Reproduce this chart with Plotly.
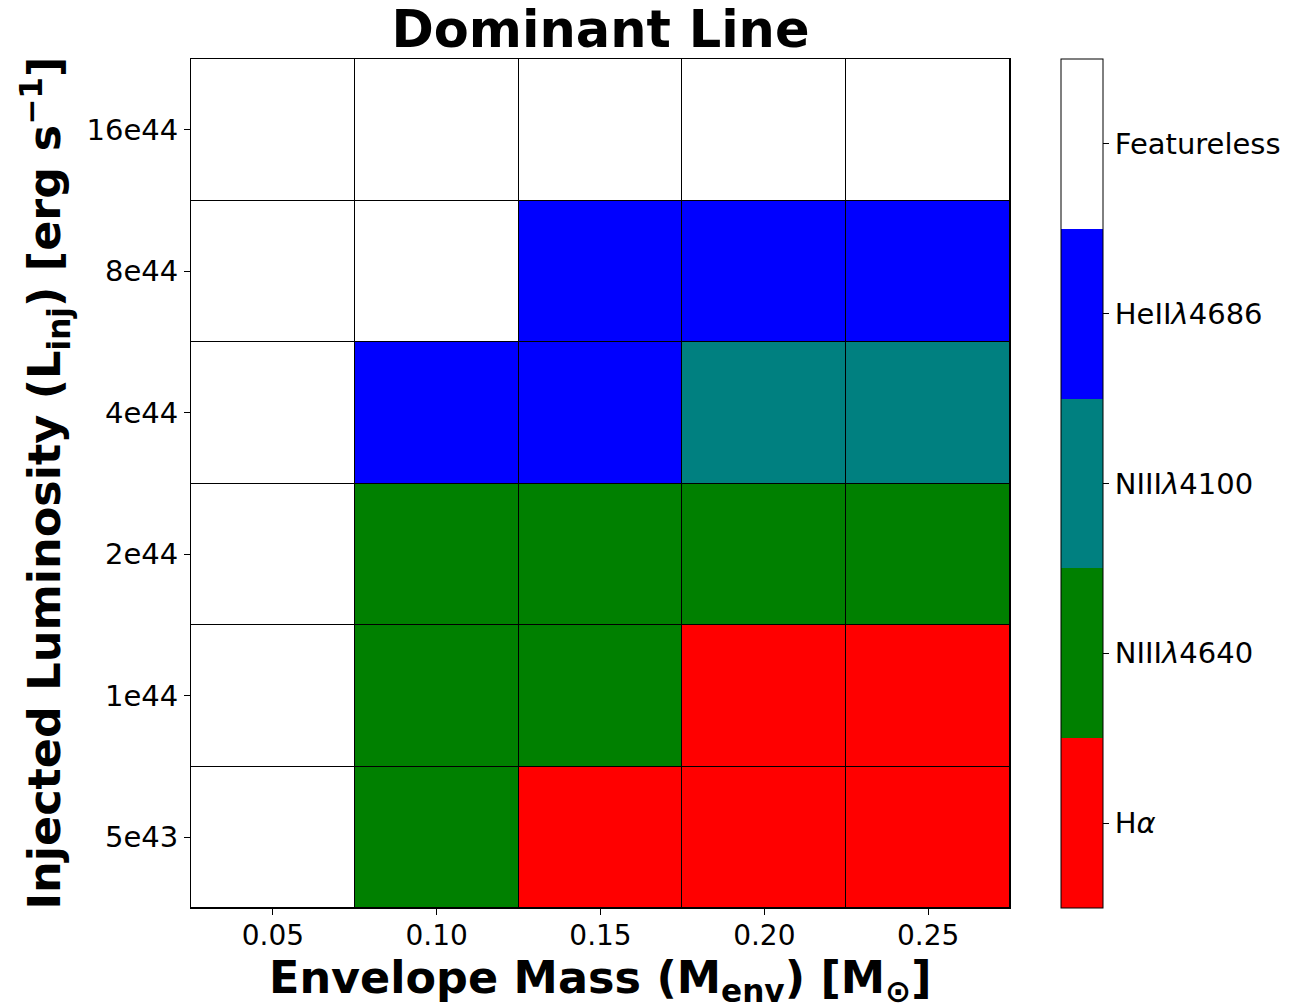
import plotly.graph_objects as go

# Grid axes
env_mass = [0.05, 0.10, 0.15, 0.20, 0.25]
lum_labels = ["5e43", "1e44", "2e44", "4e44", "8e44", "16e44"]

# Line classes (index into line_names / line_colors)
line_names = ["H<i>α</i>", "NIII<i>λ</i>4640", "NIII<i>λ</i>4100", "HeII<i>λ</i>4686", "Featureless"]
line_colors = ["#ff0000", "#008000", "#008080", "#0000ff", "#ffffff"]

# Dominant line per luminosity row (bottom to top), per envelope mass column
dominant = [
    [4, 1, 0, 0, 0],  # 5e43
    [4, 1, 1, 0, 0],  # 1e44
    [4, 1, 1, 1, 1],  # 2e44
    [4, 3, 3, 2, 2],  # 4e44
    [4, 4, 3, 3, 3],  # 8e44
    [4, 4, 4, 4, 4],  # 16e44
]

n = len(line_colors)
scale = []
for i, c in enumerate(line_colors):
    scale.append([i / n, c])
    scale.append([(i + 1) / n, c])

# plot-area geometry in pixels
W, H = 1289, 1006
L, R, T, B = 191, 279, 59, 98
pw, ph = W - L - R, H - T - B

fig = go.Figure(
    go.Heatmap(
        x=env_mass,
        y=lum_labels,
        z=dominant,
        zmin=-0.5,
        zmax=n - 0.5,
        colorscale=scale,
        xgap=1,
        ygap=1,
        colorbar=dict(
            tickvals=list(range(n)),
            ticktext=line_names,
            ticks="outside",
            ticklen=6,
            tickcolor="black",
            tickfont=dict(family="DejaVu Sans", size=29, color="black"),
            thickness=42,
            len=1,
            lenmode="fraction",
            y=0.5,
            yanchor="middle",
            x=(1061 - L) / pw,
            xanchor="left",
            xpad=0,
            ypad=0,
            outlinecolor="black",
            outlinewidth=1,
        ),
    )
)

fig.update_layout(
    width=W,
    height=H,
    margin=dict(l=L, r=R, t=T, b=B, autoexpand=False),
    paper_bgcolor="white",
    plot_bgcolor="black",
    title=dict(
        text="<b>Dominant Line</b>",
        font=dict(family="DejaVu Sans", size=51, color="black"),
        x=(L + 1010) / 2 / W,
        xanchor="center",
        xref="container",
        y=1 - 11 / H,
        yanchor="top",
        yref="container",
    ),
    annotations=[
        dict(
            text="<b>Envelope Mass (M<sub>env</sub>) [M<sub>⊙</sub>]</b>",
            font=dict(family="DejaVu Sans", size=44.5, color="black"),
            xref="paper",
            yref="paper",
            x=0.5,
            y=(908 - 980) / ph,
            xanchor="center",
            yanchor="middle",
            showarrow=False,
        ),
        dict(
            text="<b>Injected Luminosity (L<sub>inj</sub>) [erg s<sup>−1</sup>]</b>",
            font=dict(family="DejaVu Sans", size=44.5, color="black"),
            textangle=-90,
            xref="paper",
            yref="paper",
            x=(44 - L) / pw,
            y=0.5,
            xanchor="center",
            yanchor="middle",
            showarrow=False,
        ),
    ],
)

fig.update_xaxes(
    range=[0.025, 0.275],
    tickvals=env_mass,
    ticktext=[f"{v:.2f}" for v in env_mass],
    ticks="outside",
    ticklen=6,
    tickcolor="black",
    ticklabelstandoff=-4,
    tickfont=dict(family="DejaVu Sans", size=28, color="black"),
    showline=True,
    linecolor="black",
    linewidth=1,
    mirror=True,
    showgrid=False,
    zeroline=False,
    automargin=False,
)

fig.update_yaxes(
    type="category",
    ticks="outside",
    ticklen=6,
    tickcolor="black",
    tickfont=dict(family="DejaVu Sans", size=29, color="black"),
    showline=True,
    linecolor="black",
    linewidth=1,
    mirror=True,
    showgrid=False,
    zeroline=False,
    automargin=False,
)

fig.write_html("out.html")
